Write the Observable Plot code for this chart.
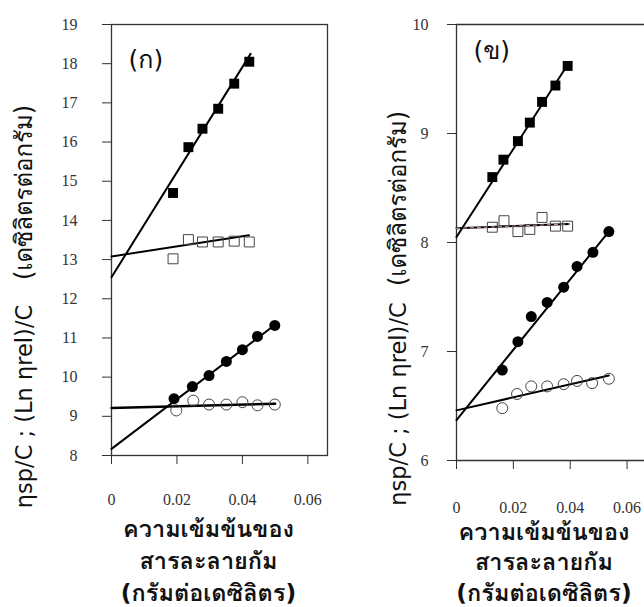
<!DOCTYPE html>
<html>
<head>
<meta charset="utf-8">
<script src="https://cdn.jsdelivr.net/npm/d3@7"></script>
<script src="https://cdn.jsdelivr.net/npm/@observablehq/plot@0.6"></script>
<style>
  html, body { margin: 0; padding: 0; background: #fff; overflow: hidden; }
  #root { position: relative; width: 644px; height: 607px; overflow: hidden; background: #fff; }
  #root > .panel { position: absolute; top: 0; }
  #root g[aria-label$="tick label"], #root g[aria-label$="tick label"] text {
    font-family: 'Liberation Serif', 'Times New Roman', 'DejaVu Serif', serif !important;
  }
  #root g[aria-label="y-title-thai"] text { letter-spacing: 1.2px; }
</style>
</head>
<body>
<div id="root"></div>
<script>
// ---------- Panel (ก) ----------
const concA_sq = [0.0188, 0.0235, 0.0278, 0.0326, 0.0375, 0.0421];
const spA_sq   = [14.70, 15.87, 16.34, 16.85, 17.49, 18.05];   // filled squares
const lnA_sq   = [13.02, 13.51, 13.45, 13.45, 13.47, 13.45];   // open squares
const concA_ci = [0.0191, 0.0247, 0.0298, 0.0351, 0.0400, 0.0446, 0.0499];
const spA_ci   = [9.45, 9.76, 10.04, 10.40, 10.70, 11.04, 11.32]; // filled circles
const concA_oc = [0.0198, 0.0250, 0.0298, 0.0351, 0.0400, 0.0446, 0.0499];
const lnA_ci   = [9.15, 9.40, 9.30, 9.30, 9.36, 9.28, 9.30];    // open circles
// fitted lines (end points)
const fitA_spSqX = [0, 0.0425], fitA_spSqY = [12.55, 18.25];
const fitA_lnSqX = [0, 0.0420], fitA_lnSqY = [13.08, 13.62];
const fitA_spCiX = [0, 0.0505], fitA_spCiY = [8.17, 11.37];
const fitA_lnCiX = [0, 0.0500], fitA_lnCiY = [9.21, 9.32];
const yTicksA = [8, 9, 10, 11, 12, 13, 14, 15, 16, 17, 18, 19];

// ---------- Panel (ข) ----------
const concB_sq = [0.0126, 0.0165, 0.0216, 0.0258, 0.0301, 0.0348, 0.0391];
const spB_sq   = [8.60, 8.76, 8.93, 9.10, 9.29, 9.44, 9.62];
const concB_os = [0.0126, 0.0167, 0.0216, 0.0258, 0.0301, 0.0348, 0.0391];
const lnB_sq   = [8.14, 8.20, 8.10, 8.12, 8.23, 8.15, 8.15];
const concB_ci = [0.0161, 0.0216, 0.0263, 0.0319, 0.0377, 0.0424, 0.0480, 0.0536];
const spB_ci   = [6.83, 7.09, 7.32, 7.45, 7.59, 7.78, 7.91, 8.10];
const concB_oc = [0.0161, 0.0213, 0.0263, 0.0319, 0.0377, 0.0424, 0.0477, 0.0536];
const lnB_ci   = [6.48, 6.61, 6.68, 6.68, 6.70, 6.73, 6.71, 6.75];
const fitB_spSqX = [0, 0.0391], fitB_spSqY = [8.05, 9.63];
const fitB_lnSqX = [0, 0.0395], fitB_lnSqY = [8.13, 8.17];
const fitB_spCiX = [0, 0.0545], fitB_spCiY = [6.37, 8.13];
const fitB_lnCiX = [0, 0.0536], fitB_lnCiY = [6.46, 6.78];
const yTicksB = [6, 7, 8, 9, 10];

// ---------- shared ----------
const xTicks = [0, 0.02, 0.04, 0.06];
const xTickLabels = ["0", "0.02", "0.04", "0.06"];
const panelLabelA = "(ก)";
const panelLabelB = "(ข)";
const xTitle = "ความเข้มข้นของ\nสารละลายกัม\n(กรัมต่อเดซิลิตร)";
const yTitleLatin = "ηsp/C ; (Ln ηrel)/C";
const yTitleThai = "(เดซิลิตรต่อกรัม)";

const zip = (xs, ys) => xs.map((x, i) => ({x, y: ys[i]}));
const thaiFont = "'DejaVu Sans', Loma, Garuda, Kinnari, Norasi, Tahoma, 'Noto Sans Thai Looped', 'Noto Sans Thai', sans-serif";
const serifFont = "'Liberation Serif', 'Times New Roman', 'DejaVu Serif', serif";
const axisColor = "#333";

function panel(opts) {
  const marks = [];
  if (opts.fullFrame) {
    marks.push(Plot.frame({stroke: axisColor, strokeWidth: 1.3}));
  } else {
    marks.push(Plot.ruleX([opts.xDomain[0]], {stroke: axisColor, strokeWidth: 1.3}));
    marks.push(Plot.ruleY([opts.yDomain[1]], {stroke: axisColor, strokeWidth: 1.3}));
    marks.push(Plot.ruleY([opts.yDomain[0]], {stroke: axisColor, strokeWidth: 1.3}));
  }
  marks.push(
    Plot.axisY(opts.yTicks, {tickSize: 9, tickPadding: opts.yPad, tickFormat: d => String(d),
      stroke: axisColor, fill: "#333", fontSize: 16, fontFamily: serifFont, label: null}),
    Plot.axisX(xTicks, {tickSize: 9, tickPadding: opts.xPad,
      tickFormat: d => xTickLabels[xTicks.indexOf(d)], stroke: axisColor, fill: "#333", fontSize: 16, fontFamily: serifFont, label: null})
  );
  for (const [xs, ys, w] of opts.fits) {
    marks.push(Plot.line(zip(xs, ys), {x: "x", y: "y", stroke: "black", strokeWidth: w}));
  }
  if (opts.dashed) {
    marks.push(Plot.line(zip(opts.dashed[0], opts.dashed[1]), {x: "x", y: "y", stroke: "#d9a0a0", strokeWidth: 1, strokeDasharray: "3,4"}));
  }
  marks.push(
    Plot.dot(zip(opts.sqX, opts.spSq), {x: "x", y: "y", symbol: "square", r: 5.6, fill: "black", stroke: "none"}),
    Plot.dot(zip(opts.osX, opts.lnSq), {x: "x", y: "y", symbol: "square", r: 5.6, fill: "none", stroke: "#444", strokeWidth: 1}),
    Plot.dot(zip(opts.ciX, opts.spCi), {x: "x", y: "y", symbol: "circle", r: 5.5, fill: "black", stroke: "none"}),
    Plot.dot(zip(opts.ocX, opts.lnCi), {x: "x", y: "y", symbol: "circle", r: 5.5, fill: "none", stroke: "#444", strokeWidth: 1})
  );
  marks.push(Plot.text([opts.label], {frameAnchor: "top-left", text: d => d, dx: 17, dy: opts.labelDy,
    textAnchor: "start", lineAnchor: "middle", fontSize: 25, fontFamily: thaiFont, fill: "#111"}));
  marks.push(Plot.text([xTitle], {frameAnchor: "bottom", text: d => d, dx: opts.xtDx, dy: opts.xtDy,
    lineAnchor: "middle", lineHeight: opts.xtLH, fontSize: opts.xtFS, fontWeight: 600, fontFamily: thaiFont, fill: "#111"}));
  marks.push(Plot.text([yTitleLatin], {frameAnchor: "left", text: d => d, dx: opts.ytDx, dy: opts.ytLatinDy,
    rotate: -90, lineAnchor: "middle", textAnchor: "middle", fontSize: 22.5, fontFamily: thaiFont, fill: "#111"}));
  marks.push(Plot.text([yTitleThai], {frameAnchor: "left", text: d => d, dx: opts.ytDx, dy: opts.ytThaiDy,
    rotate: -90, lineAnchor: "middle", textAnchor: "middle", fontSize: 24, fontFamily: thaiFont, fill: "#111",
    ariaLabel: "y-title-thai"}));

  return Plot.plot({
    width: opts.width, height: 607,
    marginLeft: opts.ml, marginRight: opts.mr, marginTop: 24, marginBottom: opts.mb,
    x: {domain: opts.xDomain, axis: null},
    y: {domain: opts.yDomain, axis: null},
    style: {fontFamily: serifFont, fontSize: "16px", background: "transparent", overflow: "visible"},
    marks
  });
}

const root = document.getElementById("root");

const pA = panel({
  width: 330, ml: 111, mr: 3, mb: 152,
  xDomain: [0, 0.066], yDomain: [8, 19], yTicks: yTicksA, yPad: 25, xPad: 29,
  fullFrame: true,
  fits: [[fitA_spSqX, fitA_spSqY, 2], [fitA_lnSqX, fitA_lnSqY, 2], [fitA_spCiX, fitA_spCiY, 2], [fitA_lnCiX, fitA_lnCiY, 2.5]],
  sqX: concA_sq, spSq: spA_sq, osX: concA_sq, lnSq: lnA_sq,
  ciX: concA_ci, spCi: spA_ci, ocX: concA_oc, lnCi: lnA_ci,
  label: panelLabelA, labelDy: 35,
  xtDx: -11, xtDy: 103, xtLH: 1.36, xtFS: 23.5, ytDx: -87, ytLatinDy: 166.5, ytThaiDy: -47.5
});
pA.classList.add("panel");
pA.style.left = "0px";
root.appendChild(pA);

const pB = panel({
  width: 330, ml: 126, mr: 5, mb: 147,
  xDomain: [0, 0.07], yDomain: [6, 10], yTicks: yTicksB, yPad: 19, xPad: 32,
  fullFrame: false,
  fits: [[fitB_spSqX, fitB_spSqY, 2], [fitB_lnSqX, fitB_lnSqY, 2], [fitB_spCiX, fitB_spCiY, 2], [fitB_lnCiX, fitB_lnCiY, 2]],
  dashed: [fitB_lnSqX, fitB_lnSqY],
  sqX: concB_sq, spSq: spB_sq, osX: concB_os, lnSq: lnB_sq,
  ciX: concB_ci, spCi: spB_ci, ocX: concB_oc, lnCi: lnB_ci,
  label: panelLabelB, labelDy: 26,
  xtDx: -12, xtDy: 100, xtLH: 1.3, xtFS: 23.5, ytDx: -58, ytLatinDy: 161.5, ytThaiDy: -44
});
pB.classList.add("panel");
pB.style.left = "330px";
root.appendChild(pB);
</script>
</body>
</html>
